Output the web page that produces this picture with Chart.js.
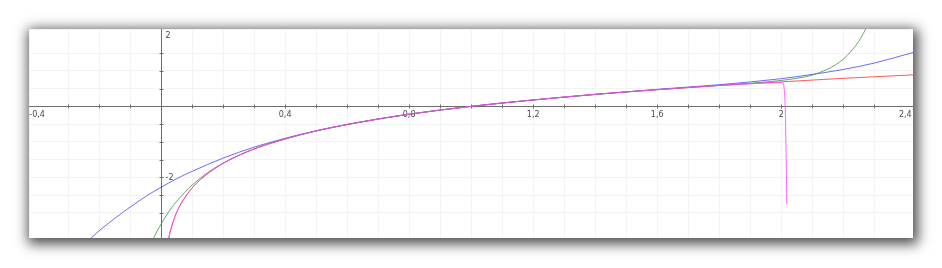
<!DOCTYPE html>
<html>
<head>
<meta charset="utf-8">
<script src="https://cdn.jsdelivr.net/npm/chart.js@4/dist/chart.umd.min.js"></script>
<style>
    body { margin: 0; background: #fff; width: 942px; height: 268px; overflow: hidden; }
    #frame {
        position: absolute; left: 29px; top: 29px; width: 884px; height: 209px;
        background: #fff; box-shadow: 2px 3px 12px 3px rgba(0, 0, 0, 0.7);
    }
    #frame canvas { display: block; }
</style>
</head>
<body>
<div id="frame"><canvas id="graph" width="884" height="209"></canvas></div>
<script>
// ln(x)
const lnX = [0.022, 0.03, 0.045, 0.06, 0.08, 0.1, 0.13, 0.17, 0.22, 0.3, 0.4, 0.5, 0.65, 0.8, 1.0, 1.2, 1.4, 1.6, 1.8, 2.0, 2.2, 2.43];
const lnY = [-3.82, -3.51, -3.10, -2.81, -2.53, -2.30, -2.04, -1.77, -1.51, -1.20, -0.92, -0.69, -0.43, -0.22, 0, 0.18, 0.34, 0.47, 0.59, 0.69, 0.79, 0.89];

// blue
const blueX = [-0.25, -0.2, -0.15, -0.1, -0.05, 0, 0.05, 0.1, 0.2, 0.3, 0.45, 0.6, 0.8, 1.0, 1.3, 1.6, 1.8, 2.0, 2.1, 2.2, 2.3, 2.43];
const blueY = [-3.90, -3.51, -3.16, -2.84, -2.54, -2.28, -2.04, -1.83, -1.46, -1.15, -0.79, -0.51, -0.22, 0, 0.26, 0.48, 0.61, 0.78, 0.90, 1.04, 1.22, 1.53];

// green
const greenX = [-0.03, -0.01, 0, 0.02, 0.05, 0.1, 0.15, 0.2, 0.3, 0.45, 0.7, 1.0, 1.3, 1.6, 1.9, 2.0, 2.05, 2.1, 2.15, 2.175, 2.2, 2.225, 2.25, 2.28];
const greenY = [-3.82, -3.47, -3.32, -3.03, -2.68, -2.22, -1.87, -1.60, -1.20, -0.80, -0.36, 0, 0.26, 0.47, 0.65, 0.73, 0.79, 0.88, 1.05, 1.17, 1.33, 1.55, 1.83, 2.30];

// magenta
const pinkX = [0.023, 0.03, 0.045, 0.06, 0.08, 0.1, 0.13, 0.17, 0.22, 0.3, 0.4, 0.5, 0.65, 0.8, 1.0, 1.2, 1.4, 1.6, 1.8, 1.95, 2.005, 2.01, 2.013, 2.016, 2.018];
const pinkY = [-3.77, -3.51, -3.10, -2.81, -2.53, -2.30, -2.04, -1.77, -1.51, -1.20, -0.92, -0.69, -0.43, -0.22, 0, 0.18, 0.34, 0.47, 0.59, 0.66, 0.67, 0.45, -0.10, -1.50, -2.76];

// tick labels
const xTickValues = [-0.4, 0.4, 0.8, 1.2, 1.6, 2, 2.4];
const xTickLabels = ['-0,4', '0,4', '0,8', '1,2', '1,6', '2', '2,4'];
const yTickValues = [2, -2];
const yTickLabels = ['2', '-2'];

function points(xs, ys) {
    return xs.map(function (v, i) { return {x: v, y: ys[i]}; });
}

function series(data, color, order) {
    return {
        data: data, borderColor: color, borderWidth: 1, pointRadius: 0,
        showLine: true, fill: false, cubicInterpolationMode: 'monotone', order: order
    };
}

// axes through the origin
const axesPlugin = {
    id: 'axes',
    beforeDatasetsDraw: function (chart) {
        const ctx = chart.ctx, a = chart.chartArea;
        const sx = chart.scales.x, sy = chart.scales.y;
        const x0 = Math.round(sx.getPixelForValue(0)) + 0.5;
        const y0 = Math.round(sy.getPixelForValue(0)) + 0.5;
        ctx.save();
        ctx.strokeStyle = '#6e6e6e';
        ctx.lineWidth = 1;
        ctx.beginPath();
        ctx.moveTo(a.left, y0); ctx.lineTo(a.right, y0);
        ctx.moveTo(x0, a.top); ctx.lineTo(x0, a.bottom);
        sx.ticks.forEach(function (t) {
            if (Math.abs(t.value * 10 - Math.round(t.value * 10)) > 1e-6) return;
            const px = Math.round(sx.getPixelForValue(t.value)) + 0.5;
            ctx.moveTo(px, y0 - 2); ctx.lineTo(px, y0 + 2);
        });
        sy.ticks.forEach(function (t) {
            if (Math.abs(t.value * 2 - Math.round(t.value * 2)) > 1e-6) return;
            const py = Math.round(sy.getPixelForValue(t.value)) + 0.5;
            ctx.moveTo(x0 - 2, py); ctx.lineTo(x0 + 2, py);
        });
        ctx.stroke();

        ctx.fillStyle = '#4a4a5a';
        ctx.font = '8px "DejaVu Sans"';
        ctx.textAlign = 'center';
        ctx.textBaseline = 'top';
        xTickValues.forEach(function (v, i) {
            ctx.fillText(xTickLabels[i], sx.getPixelForValue(v), y0 + 4);
        });
        ctx.textAlign = 'left';
        ctx.textBaseline = 'middle';
        yTickValues.forEach(function (v, i) {
            ctx.fillText(yTickLabels[i], x0 + 4, sy.getPixelForValue(v) + 1);
        });
        ctx.restore();
    }
};

new Chart(document.getElementById('graph').getContext('2d'), {
    type: 'scatter',
    data: {
        datasets: [
            series(points(pinkX, pinkY), 'rgba(255, 70, 255, 0.85)', 0),
            series(points(greenX, greenY), 'rgba(60, 150, 60, 0.8)', 1),
            series(points(blueX, blueY), 'rgba(70, 70, 255, 0.8)', 2),
            series(points(lnX, lnY), 'rgba(255, 60, 60, 0.85)', 3)
        ]
    },
    options: {
        responsive: false,
        animation: false,
        devicePixelRatio: 1,
        layout: {padding: 0},
        plugins: {legend: {display: false}, tooltip: {enabled: false}},
        scales: {
            x: {
                type: 'linear', min: -0.426, max: 2.425,
                ticks: {display: false, stepSize: 0.1},
                grid: {color: '#f3f3f3', drawTicks: false},
                border: {display: false}
            },
            y: {
                type: 'linear', min: -3.71, max: 2.18,
                ticks: {display: false, stepSize: 0.5},
                grid: {color: '#f3f3f3', drawTicks: false},
                border: {display: false}
            }
        }
    },
    plugins: [axesPlugin]
});
</script>
</body>
</html>
